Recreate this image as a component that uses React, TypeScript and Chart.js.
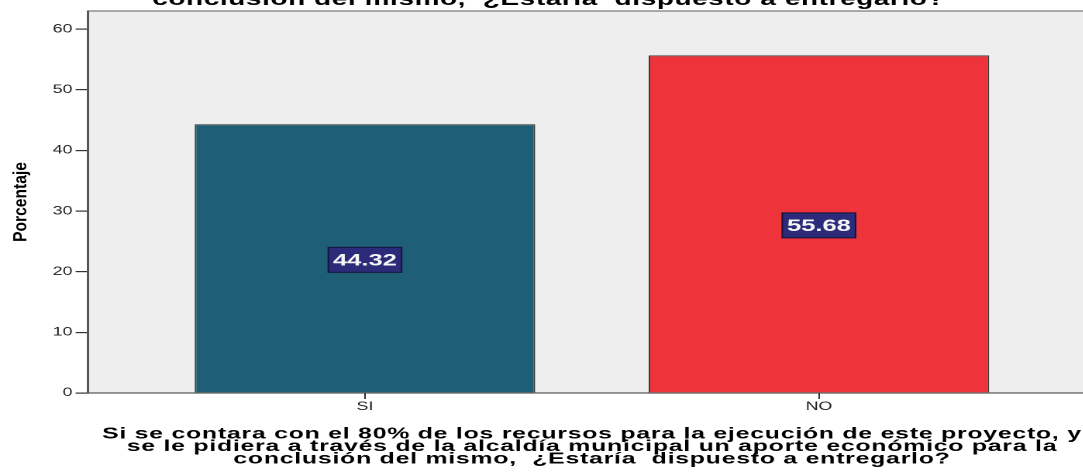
import { useEffect, useRef } from 'react';
import { Chart, registerables } from 'chart.js';

Chart.register(...registerables);

// Survey answers and their share of respondents (%)
const categories = ['SI', 'NO'];
const percentages = [44.32, 55.68];
const barColors = ['#1e5f75', '#ef333b'];
const yTicks = [0, 10, 20, 30, 40, 50, 60];

const chartTitle = 'conclusión del mismo,  ¿Estaría  dispuesto a entregarlo?';
const xAxisTitleLines = [
  'Si se contara con el 80% de los recursos para la ejecución de este proyecto, y',
  'se le pidiera a través de la alcaldía municipal un aporte económico para la',
  'conclusión del mismo,  ¿Estaría  dispuesto a entregarlo?',
];
const yAxisTitle = 'Porcentaje';

// The whole drawing is widened horizontally by this factor
const STRETCH = 1.55;
const CANVAS_W = 716;
const CANVAS_H = 474;
const FONT = '"Liberation Sans", Arial, Helvetica, sans-serif';

function setSpacing(ctx: any, value: string) {
  if ('letterSpacing' in ctx) ctx.letterSpacing = value;
}

// Light grey plot panel with a thin frame line on top
const plotBackground = {
  id: 'plotBackground',
  beforeDraw(chart: any) {
    const { ctx, chartArea } = chart;
    ctx.save();
    ctx.fillStyle = '#eeeeee';
    ctx.fillRect(chartArea.left, chartArea.top, chartArea.right - chartArea.left, chartArea.bottom - chartArea.top);
    ctx.strokeStyle = '#7a7a7a';
    ctx.lineWidth = 1.2;
    ctx.beginPath();
    ctx.moveTo(chartArea.left, chartArea.top);
    ctx.lineTo(chartArea.right, chartArea.top);
    ctx.stroke();
    ctx.restore();
  },
};

// Navy value boxes centred in each bar
const valueBoxes = {
  id: 'valueBoxes',
  afterDatasetsDraw(chart: any) {
    const { ctx } = chart;
    const meta = chart.getDatasetMeta(0);
    ctx.save();
    ctx.font = `bold 16.5px ${FONT}`;
    ctx.textAlign = 'center';
    ctx.textBaseline = 'middle';
    meta.data.forEach((bar: any, i: number) => {
      const text = percentages[i].toFixed(2);
      const cx = bar.x;
      const cy = (bar.y + bar.base) / 2 + 1.5;
      const w = ctx.measureText(text).width + 6;
      const h = 25;
      ctx.fillStyle = '#2b2b7a';
      ctx.fillRect(cx - w / 2, cy - h / 2, w, h);
      ctx.strokeStyle = '#14143a';
      ctx.lineWidth = 1;
      ctx.strokeRect(cx - w / 2, cy - h / 2, w, h);
      ctx.fillStyle = '#f6f6f6';
      ctx.fillText(text, cx, cy + 1);
    });
    ctx.restore();
  },
};

// Chart title, multi-line category-axis title and rotated value-axis title
const textOverlay = {
  id: 'textOverlay',
  afterDraw(chart: any) {
    const { ctx, chartArea } = chart;
    ctx.save();
    ctx.fillStyle = '#000000';
    ctx.textAlign = 'center';
    ctx.textBaseline = 'alphabetic';

    ctx.font = `bold 18px ${FONT}`;
    setSpacing(ctx, '0.4px');
    ctx.fillText(chartTitle, 354, 5);

    ctx.font = `bold 16px ${FONT}`;
    setSpacing(ctx, '0.5px');
    const cx = (chartArea.left + chartArea.right) / 2;
    xAxisTitleLines.forEach((line, i) => {
      ctx.fillText(line, cx, chartArea.bottom + 45.5 + i * 12.4);
    });
    setSpacing(ctx, '0px');

    ctx.translate(17, (chartArea.top + chartArea.bottom) / 2);
    ctx.rotate(-Math.PI / 2);
    ctx.scale(1.3, 1);
    ctx.font = `bold 12px ${FONT}`;
    ctx.fillText(yAxisTitle, 0, 0);
    ctx.restore();
  },
};

export default function App() {
  const canvasRef = useRef<HTMLCanvasElement | null>(null);

  useEffect(() => {
    const canvas = canvasRef.current;
    if (!canvas) return;
    const chart = new Chart(canvas, {
      type: 'bar',
      data: {
        datasets: [
          {
            data: categories.map((_, i) => ({ x: i + 1, y: percentages[i] })),
            backgroundColor: barColors,
            borderColor: '#3a3a3a',
            borderWidth: 1,
            barPercentage: 0.75,
            categoryPercentage: 1,
          },
        ],
      },
      options: {
        responsive: false,
        animation: false,
        devicePixelRatio: 2,
        layout: { padding: { top: 11, right: 9, bottom: 0, left: 0 } },
        plugins: {
          legend: { display: false },
          tooltip: { enabled: false },
          title: { display: false },
        },
        scales: {
          x: {
            type: 'linear',
            min: 0.39,
            max: 2.61,
            offset: false,
            afterBuildTicks: (axis: any) => {
              axis.ticks = categories.map((_, i) => ({ value: i + 1 }));
            },
            afterFit: (axis: any) => {
              axis.height = 81;
            },
            ticks: {
              callback: (_v: any, i: number) => categories[i],
              font: { family: FONT, size: 11.5 },
              color: '#222222',
              padding: 1,
              maxRotation: 0,
              autoSkip: false,
            },
            grid: {
              offset: false,
              drawOnChartArea: false,
              drawTicks: true,
              tickLength: 6,
              tickColor: '#333333',
              lineWidth: 1,
            },
            border: { display: true, color: '#333333', width: 1 },
          },
          y: {
            type: 'linear',
            min: 0,
            max: 63,
            afterBuildTicks: (axis: any) => {
              axis.ticks = yTicks.map((v) => ({ value: v }));
            },
            afterFit: (axis: any) => {
              axis.width = 56.8;
            },
            ticks: {
              font: { family: FONT, size: 11.5 },
              color: '#222222',
              padding: 2,
            },
            grid: {
              drawOnChartArea: false,
              drawTicks: true,
              tickLength: 8,
              tickColor: '#333333',
              lineWidth: 1.2,
            },
            border: { display: true, color: '#555555', width: 1.5 },
          },
        },
      } as any,
      plugins: [plotBackground, valueBoxes, textOverlay],
    });
    return () => chart.destroy();
  }, []);

  return (
    <div
      style={{
        position: 'fixed',
        left: 0,
        top: 0,
        width: 1083,
        height: 474,
        overflow: 'hidden',
        background: '#ffffff',
      }}
    >
      <canvas
        ref={canvasRef}
        width={CANVAS_W}
        height={CANVAS_H}
        style={{
          display: 'block',
          width: CANVAS_W,
          height: CANVAS_H,
          transform: `scaleX(${STRETCH})`,
          transformOrigin: '0 0',
        }}
      />
    </div>
  );
}
